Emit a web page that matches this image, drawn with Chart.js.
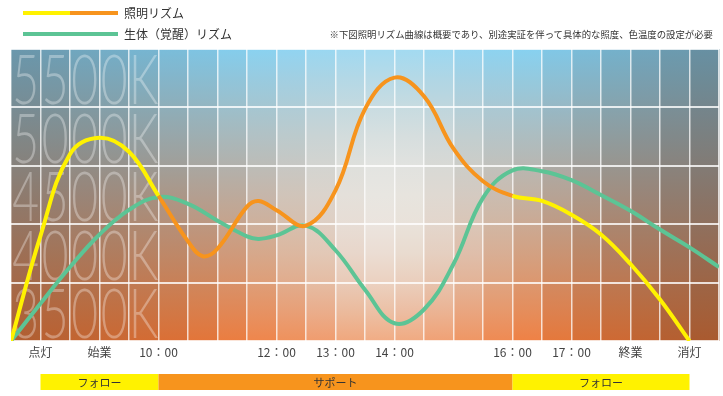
<!DOCTYPE html>
<html lang="ja">
<head>
<meta charset="utf-8">
<script src="https://cdn.jsdelivr.net/npm/chart.js@4/dist/chart.umd.min.js"></script>
<style>
  html, body { margin: 0; padding: 0; background: #fff; }
  #wrap { position: relative; width: 723px; height: 396px; font-family: "Noto Sans CJK JP", "Noto Sans", sans-serif; color: #333; }
  #chart { position: absolute; left: 0; top: 0; }
  .key { position: absolute; left: 23px; width: 95px; height: 4px; }
  .key.light { top: 11px; background: linear-gradient(to right, #fff200 0, #fff200 50%, #f7941d 50%, #f7941d 100%); }
  .key.body { top: 32px; background: #5cc495; }
  .lbl { position: absolute; left: 124px; font-size: 12px; line-height: 14px; white-space: nowrap; }
  .note { position: absolute; right: 10px; top: 28px; font-size: 9.4px; line-height: 12px; white-space: nowrap; }
</style>
</head>
<body>
<div id="wrap">
  <canvas id="chart" width="723" height="396"></canvas>
  <div class="key light"></div>
  <div class="lbl" style="top:6px">照明リズム</div>
  <div class="key body"></div>
  <div class="lbl" style="top:27px">生体（覚醒）リズム</div>
  <div class="note">※下図照明リズム曲線は概要であり、別途実証を伴って具体的な照度、色温度の設定が必要</div>
</div>
<script>
// Time slots along the day (0 = start, one slot per grid column)
const timeLabels = ['点灯', '始業', '10：00', '12：00', '13：00', '14：00', '16：00', '17：00', '終業', '消灯'];
const labelSlots = [1, 3, 5, 9, 11, 13, 17, 19, 21, 23];

// Colour temperature bands (K)
const kelvinRows = ['5500K', '5000K', '4500K', '4000K', '3500K'];
const kelvinTop = [5500, 5000, 4500, 4000, 3500];

// 照明リズム (lighting rhythm), colour temperature in K
const lightX = [0, 1, 2, 3, 4, 5, 6, 6.5, 7, 8, 8.4, 9, 10, 11, 12, 13, 14, 15, 16, 17, 18, 19, 20, 21, 22, 23];
const lightK = [3000, 3900, 4600, 4740, 4620, 4242, 3853, 3726, 3790, 4150, 4199, 4120, 3988, 4290, 4985, 5255, 5095, 4647, 4368, 4242, 4199, 4081, 3912, 3659, 3355, 3000];

// 生体（覚醒）リズム (body / alertness rhythm)
const bodyX = [0, 1, 2, 3, 4, 5, 6, 7, 8, 8.4, 9, 10, 11, 12, 13, 14, 15, 16, 17, 18, 19, 20, 21, 22, 23, 24];
const bodyK = [3000, 3321, 3633, 3912, 4123, 4233, 4174, 4030, 3896, 3874, 3904, 3988, 3777, 3439, 3152, 3270, 3659, 4225, 4461, 4453, 4377, 4250, 4115, 3954, 3802, 3633];

// Support phases along the bottom
const phaseNames = ['フォロー', 'サポート', 'フォロー'];
const phaseStart = [1, 5, 17];
const phaseEnd = [5, 17, 23];

const YELLOW = '#fff200';
const ORANGE = '#f7941d';
const GREEN = '#5cc495';
const phaseColors = [YELLOW, ORANGE, YELLOW];
const supportFrom = phaseStart[1], supportTo = phaseEnd[1];

function mix(a, b, t) {
  return [a[0] + (b[0] - a[0]) * t, a[1] + (b[1] - a[1]) * t, a[2] + (b[2] - a[2]) * t];
}
// Sky-to-amber tint for a tile at horizontal position u and depth t (both 0..1)
function tileColor(u, t) {
  let c = mix([128, 206, 240], [238, 118, 52], t);
  const glow = 0.82 * Math.exp(-Math.pow((u - 0.53) / 0.16, 2) - Math.pow((t - 0.55) / 0.55, 2));
  c = mix(c, [244, 246, 244], glow);
  const shade = Math.max(0, (0.33 - u) / 0.33) * 0.36 + Math.max(0, (u - 0.74) / 0.26) * 0.42;
  c = mix(c, [62, 46, 40], shade);
  return 'rgb(' + c.map(v => Math.round(v)).join(',') + ')';
}

const backdrop = {
  id: 'backdrop',
  beforeDraw(chart) {
    const { ctx, chartArea: a, scales: { x, y } } = chart;
    ctx.save();
    const cols = Math.round(x.max - x.min);
    for (let j = 0; j < cols; j++) {
      const x0 = x.getPixelForValue(j), x1 = x.getPixelForValue(j + 1);
      const u = (j + 0.5) / cols;
      const g = ctx.createLinearGradient(0, a.top, 0, a.bottom);
      for (let s = 0; s <= 10; s++) g.addColorStop(s / 10, tileColor(u, s / 10));
      ctx.fillStyle = g;
      ctx.fillRect(x0, a.top, x1 - x0 + 0.5, a.bottom - a.top);
    }
    // large colour-temperature captions, one character per column
    ctx.beginPath();
    ctx.rect(a.left, a.top, a.right - a.left, a.bottom - a.top);
    ctx.clip();
    ctx.fillStyle = 'rgba(255,255,255,0.32)';
    ctx.textAlign = 'center';
    ctx.textBaseline = 'alphabetic';
    ctx.font = '300 68px Lato, "Open Sans", sans-serif';
    kelvinRows.forEach((txt, r) => {
      const base = y.getPixelForValue(kelvinTop[r] - 500) - 3;
      [...txt].forEach((ch, c) => {
        const cx = (x.getPixelForValue(c) + x.getPixelForValue(c + 1)) / 2;
        ctx.save();
        ctx.translate(cx, base);
        ctx.scale(0.68, 1);
        ctx.fillText(ch, 0, 0);
        ctx.restore();
      });
    });
    ctx.restore();
  },
  afterDraw(chart) {
    const { ctx, chartArea: a, scales: { x } } = chart;
    ctx.save();
    const top = a.bottom + 33, h = 16;
    phaseNames.forEach((name, i) => {
      const x0 = x.getPixelForValue(phaseStart[i]), x1 = x.getPixelForValue(phaseEnd[i]);
      ctx.fillStyle = phaseColors[i];
      ctx.fillRect(x0, top, x1 - x0, h);
      ctx.fillStyle = '#333';
      ctx.font = '11px "Noto Sans CJK JP", sans-serif';
      ctx.textAlign = 'center';
      ctx.textBaseline = 'middle';
      ctx.fillText(name, (x0 + x1) / 2, top + h / 2 + 0.5);
    });
    ctx.restore();
  }
};

new Chart(document.getElementById('chart'), {
  type: 'line',
  data: {
    datasets: [
      {
        label: '照明リズム',
        data: lightX.map((v, i) => ({ x: v, y: lightK[i] })),
        borderColor: YELLOW,
        borderWidth: 4,
        pointRadius: 0,
        tension: 0.4,
        segment: {
          borderColor: c => (c.p0.parsed.x >= supportFrom && c.p1.parsed.x <= supportTo) ? ORANGE : YELLOW
        }
      },
      {
        label: '生体（覚醒）リズム',
        data: bodyX.map((v, i) => ({ x: v, y: bodyK[i] })),
        borderColor: GREEN,
        borderWidth: 4,
        pointRadius: 0,
        tension: 0.4
      }
    ]
  },
  options: {
    responsive: false,
    animation: false,
    devicePixelRatio: 1,
    layout: { padding: { top: 49, left: 11, right: 1, bottom: 32.6 } },
    plugins: { legend: { display: false }, tooltip: { enabled: false } },
    scales: {
      x: {
        type: 'linear',
        min: 0,
        max: 24,
        border: { display: false },
        grid: { color: 'rgba(255,255,255,0.75)', lineWidth: 1.5, drawTicks: false },
        ticks: {
          stepSize: 1,
          autoSkip: false,
          maxRotation: 0,
          padding: 4,
          color: '#444',
          font: { size: 12, family: '"Noto Sans CJK JP", sans-serif' },
          callback: v => {
            const i = labelSlots.indexOf(v);
            return i >= 0 ? timeLabels[i] : '';
          }
        }
      },
      y: {
        min: 3000,
        max: 5500,
        border: { display: false },
        grid: { color: 'rgba(255,255,255,0.8)', lineWidth: 2, drawTicks: false },
        ticks: { display: false, stepSize: 500 }
      }
    }
  },
  plugins: [backdrop]
});
</script>
</body>
</html>
